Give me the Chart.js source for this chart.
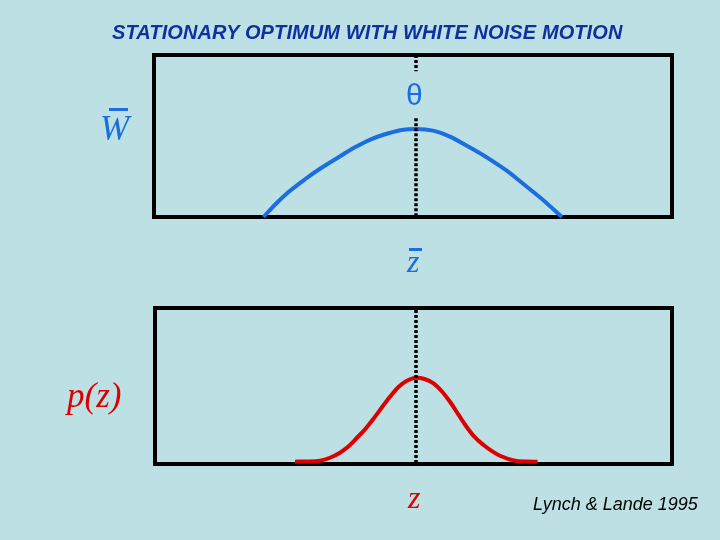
<!DOCTYPE html>
<html>
<head>
<meta charset="utf-8">
<script src="https://cdn.jsdelivr.net/npm/chart.js@4"></script>
<style>
  html, body { margin:0; padding:0; }
  body { width:720px; height:540px; background:#bce0e4; position:relative; overflow:hidden; }
  canvas { position:absolute; left:0; top:0; }
  .t { position:absolute; white-space:nowrap; line-height:1; }
  .serif { font-family:"Liberation Serif","Times New Roman",serif; font-style:italic; }
  .sans { font-family:"Liberation Sans",Arial,sans-serif; }
  .bar { position:absolute; }
</style>
</head>
<body>
<canvas id="top" width="720" height="540"></canvas>
<canvas id="bot" width="720" height="540"></canvas>

<div class="t sans" style="left:112px;top:21.5px;font-size:20px;letter-spacing:0.1px;font-weight:bold;font-style:italic;color:#1030a0;">STATIONARY OPTIMUM WITH WHITE NOISE MOTION</div>

<div class="t serif" style="left:100px;top:111px;font-size:35px;color:#1a6ee0;">W</div>
<div class="bar" style="left:109px;top:108px;width:19px;height:2.5px;background:#1a6ee0;"></div>

<div class="t sans" style="left:406px;top:80px;font-size:30px;color:#1a6ee0;">θ</div>

<div class="t serif" style="left:407px;top:245px;font-size:32px;color:#1a6ee0;">z</div>
<div class="bar" style="left:409px;top:248px;width:13px;height:2.5px;background:#1a6ee0;"></div>

<div class="t serif" style="left:67px;top:378px;font-size:35px;color:#dd0000;">p(z)</div>

<div class="t serif" style="left:408px;top:481px;font-size:32px;color:#dd0000;">z</div>

<div class="t sans" style="left:533px;top:495px;font-size:18px;font-style:italic;color:#000;">Lynch &amp; Lande 1995</div>

<script>
// ---- data (x in trait units relative to the optimum theta; y as fraction of panel height) ----
const theta = 0;

// mean fitness W-bar as a function of mean phenotype z-bar (top panel)
const wZ = [-3.05, -2.80, -2.55, -2.22, -1.89, -1.55, -1.22, -0.89, -0.55, -0.29, 0.00,
            0.34, 0.68, 1.00, 1.34, 1.60, 1.88, 2.10, 2.34, 2.62, 2.92];
const wY = [0.000, 0.082, 0.154, 0.233, 0.304, 0.369, 0.430, 0.481, 0.517, 0.537, 0.543,
            0.533, 0.496, 0.443, 0.383, 0.331, 0.271, 0.216, 0.156, 0.084, 0.000];

// phenotype distribution p(z) (bottom panel)
const pZ = [-2.42, -2.20, -1.92, -1.72, -1.52, -1.36, -1.19, -1.02, -0.85, -0.68, -0.52, -0.35, -0.19, 0.00,
            0.17, 0.35, 0.52, 0.68, 0.85, 1.01, 1.18, 1.35, 1.52, 1.68, 1.98, 2.20, 2.43];
const pY = [0.015, 0.016, 0.021, 0.040, 0.072, 0.110, 0.165, 0.222, 0.290, 0.364, 0.431, 0.494, 0.532, 0.553,
            0.545, 0.517, 0.465, 0.399, 0.316, 0.239, 0.170, 0.122, 0.083, 0.053, 0.021, 0.016, 0.015];

// dotted marker line at theta (null = gap behind the theta label)
const thetaLineTopY = [1.0, 0.90, null, 0.61, 0.0];
const thetaLineBotY = [0.987, 0.013];

// ---- drawing ----
const boxPlugin = {
  id: 'box',
  beforeDatasetsDraw(chart) {
    const a = chart.chartArea, ctx = chart.ctx;
    ctx.save();
    ctx.strokeStyle = '#000';
    ctx.lineWidth = 4;
    ctx.strokeRect(a.left, a.top, a.right - a.left, a.bottom - a.top);
    ctx.restore();
  }
};

function makeChart(id, pad, xMin, xMax, curveX, curveY, color, lineY) {
  const curve = curveX.map((x, i) => ({ x: x, y: curveY[i] }));
  const marker = lineY.map(y => ({ x: theta, y: y }));
  return new Chart(document.getElementById(id), {
    type: 'line',
    data: {
      datasets: [
        { data: marker, borderColor: '#000', borderWidth: 3.5, borderDash: [3, 2],
          pointRadius: 0, spanGaps: false, tension: 0, clip: 4, borderCapStyle: 'butt' },
        { data: curve, borderColor: color, borderWidth: 4, pointRadius: 0,
          cubicInterpolationMode: 'monotone', fill: false, clip: 4, borderCapStyle: 'butt' }
      ]
    },
    options: {
      responsive: false,
      animation: false,
      devicePixelRatio: 1,
      layout: { padding: pad },
      plugins: { legend: { display: false }, tooltip: { enabled: false }, title: { display: false } },
      scales: {
        x: { type: 'linear', min: xMin, max: xMax, display: false },
        y: { type: 'linear', min: 0, max: 1, display: false }
      }
    },
    plugins: [boxPlugin]
  });
}

makeChart('top', { left: 154, right: 48, top: 55, bottom: 323 }, -5.24, 5.12, wZ, wY, '#1a6ee0', thetaLineTopY);
makeChart('bot', { left: 155, right: 48, top: 308, bottom: 76 }, -5.22, 5.12, pZ, pY, '#dd0000', thetaLineBotY);
</script>
</body>
</html>
